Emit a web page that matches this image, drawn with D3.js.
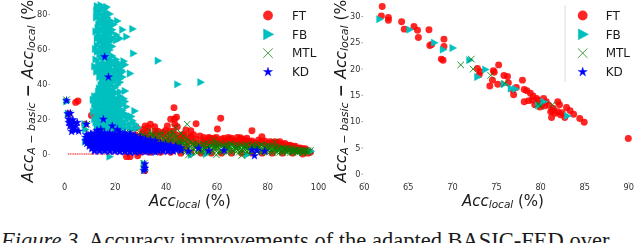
<!DOCTYPE html>
<html>
<head>
<meta charset="utf-8">
<script src="https://cdn.jsdelivr.net/npm/d3@7"></script>
<style>
html, body { margin: 0; padding: 0; background: #fff; overflow: hidden; }
svg { display: block; }
text { font-family: "DejaVu Sans", sans-serif; fill: #1a1a1a; }
</style>
</head>
<body>
<script>
var w = 640;
var h = 243;

var legendNames = ["FT", "FB", "MTL", "KD"];
var leftXTicks = [0, 20, 40, 60, 80, 100];
var leftYTicks = [0, 20, 40, 60, 80];
var rightXTicks = [60, 65, 70, 75, 80, 85, 90];
var rightYTicks = [0, 5, 10, 15, 20, 25, 30];

// left panel
var leftZero = [[1.5, 0], [40, 0]];

var leftFT = [
[4.6,29.5],[5.5,30.3],[1.8,23],[8.2,17],[10.8,22],[28.5,15.2],[32,16],[33,15],[34,17],[35.7,15.6],[33,12.8],[36,13],
[40.7,16],[43.3,26.5],[42,19.8],[43.5,20],[44.3,21],[43.6,17],[44.6,15.6],[41.7,12.8],[48,13.7],[49.9,13.3],[52,17.3],
[61.7,20.4],[60.4,14.3],[74,13.3],[77.9,9.9],[76.6,8],[57.5,9],[59,9],[53.5,10.3],[46.3,10.9],[64.7,9.5],[68.3,9.5],[69.5,9.3],[72,9],[62,8.4],
[24.6,-1.5],[26,-1.5],[29,-1],[31,12],[30,10],[35,10],[38,11],[40,10],[42,9],[44,11],[47,9],[50,10],[52,8.5],[55,8],
[58,7.5],[60,8],[63,7.5],[66,8],[68,7.5],[70,7.5],[73,7],[75,6.5],[78,7],[80,6],[82,6.5],[84,6.5],[86,5.5],[88,5],[90,4.5],[92,3.5],[94,3],[96,2],
[30,1],[34,1],[38,1],[42,1],[46,0.5],[50,0.5],[54,0.5],[58,0.5],[62,0.5],[66,0.5],[70,0.5],[74,0.5],[78,0.5],[82,0.5],[86,0.5],[90,0.5],[94,0],[96,0.5],
[48,4],[52,5],[56,5],[60,5],[64,5],[68,5],[72,5],[76,4.5],[80,4],[84,4],[88,3],[92,2],[57,7],[61,6.5],[65,6.5],[69,6],[74,5.5],[79,5.5],[83,5],[87,4],[91,3],
[31.8,-9.5],[46,8],[49,7],[51,7],[54,6.5],[56,7],[59,6.5],[62,6.5],[64,7],[67,7],[71,6.5],[72,7.5],[76,6],[77,6.5],[81,5.5],[85,5.5],[89,4],[93,2.5],[95,2],[97,1],
[37,8],[33,9],[39,7],[41,7.5],[43,7],[45,6],[28,11],[32,11],[36,11.5],[39,12.5],[47,11],[51,11],[55,6],[65,8.5],[71,8],[83,7],[85,7],[87,6],[79,7.5],
[55,9.5],[57,9.5],[60,9.5],[63,9],[66,9],[70,8.5],[74,7.5],[81,7],[49,10],[45,9],[37,13],[31,14],[40,13.5],[43,13],[93,3.5],[95,3],[91,4.5],[89,5]
];

var leftFB = [
[13.4,84],[15.5,84],[14.2,82],[16.5,81],[13.2,80],[15,79],[17,78],[18.5,76],[21,76],[14,77],[16,75],[13.6,74],[15.5,73],[17.5,73],[19,71],
[27,71.5],[23,71],[12.5,70],[14.5,70],[16.5,69],[24.6,67],[20.6,68],[22,66],[20.6,65],[15,66],[16.5,65],[14,64],[18,64],[15.5,62],[17,61],
[27.3,57.5],[13,58.5],[15,58],[17,58],[19,56],[14.5,55],[16.5,55],[37,53.3],[13.5,52],[15.5,52],[17.5,52],[19.5,52],[21.5,52],[24,51],
[13,49],[15,49],[17,49],[19,48],[21,48],[23,47],[26,46],[14.5,46],[16.5,46],[18.5,45],[20.5,45],[22,43],[44.7,39.8],[53.8,41],[16,43],[18,43],[20,42],[22,41],
[15.5,40],[17.5,40],[16,37],[18,37],[24,36],[15,34],[17,34],[19,34],[14,32],[16,32],[18,32],[20,32],[22,33],[11.4,31],[23.5,31.6],[13,29],[15,29],[17,29],[19,29],[21,29],[23,29],
[12.5,26],[14.5,26],[16.5,26],[18.5,26],[20.5,26],[27.8,24.6],[13,23],[15,23],[17,23],[19,23],[21,23],[13.5,20],[15.5,20],[17.5,20],[19.5,20],[21.5,20],[25,20],[27,19],[14,17],[16,17],[18,17],[20,17],[24,17],[26,17],[28,17],[23,15],
[14,14],[16,14],[18,14],[20,14],[1,30],[1.6,23],[8.4,7],[8.4,14],[8.2,17],[31.6,-5.5],[31.6,-7.5],[31.8,-9.2],[97.2,1.6],[18,-1.5],[50,-0.5],[72,-0.5],[56,0],
[14.8,83],[16,83],[12.8,82],[14,80],[16,79],[14.8,76],[17.2,75.5],[15,71],[17.8,70],[16,68],[14.8,67],[17.2,66.5],[18.8,66],[16.3,63],[14.6,60.5],[16,60],[18,59.5],[15.8,57],[18,54],[20.5,54],
[14.5,50.5],[16.5,50.5],[18.5,50.5],[20.5,50],[22.5,50],[14,47.5],[16,47.5],[18,47],[20,46.5],[22,46],[15.5,44.5],[17.5,44.5],[19.5,44],[15,42],[17,42],[19,41],[16.5,39],[18.5,39],[15.5,38],[17,35.5],[15,36],[19,36],
[13,33],[15,33],[17,33],[19,33],[21,31],[12.5,30.5],[14.5,30.5],[16.5,30.5],[18.5,30.5],[20.5,30.5],[14,28],[16,28],[18,28],[20,28],[22,27.5],[13.5,25],[15.5,25],[17.5,25],[19.5,25],[21.5,25],
[14,22],[16,22],[18,22],[20,22],[22,22],[13,21],[15,21],[17,21],[19,21],[21,21],[14.5,19],[16.5,19],[18.5,19],[20.5,19],[22.5,19],[15,16],[17,16],[19,16],[21,16],[22,18],[23.5,18.5],
[13,84.5],[14.5,85],[16.8,84],[18,80],[12.7,78],[15.8,77.5],[18,73],[19.5,74],[13.3,72],[16.5,71.5],[18.5,69],[13.5,68],[19.5,66],[13,66],[15.5,64.5],[17.5,62.5],[19,61.5],[13,62],[12.3,60],[14,57],[16.8,56.5],[19,53],[12.5,54],[12,50],[23.5,53],[22.5,48],[12.8,47],[21,44],[14,44],[23,44],
[24,30],[22.5,30.5],[24.5,27],[23,25],[24,23],[22.5,23.5],[12,28],[11.5,24],[12,20],[12.5,18],[23,21],[25,22],[26.5,21.5],[12,33],[20.5,35],[22,35.5],[13.5,35.5],[13.8,37.5],[20,38],[14.5,39.5],[21,39.5],
[22,16.5],[24,15],[26,15],[29,15],[27,14],[13,15.5],[20.5,23.5],[18,24],[16,24],[14,24],[16,27],[18,27],[20,27],[15,31],[17,31],[19,31],[14,35],[16,35],[18,35]
];

var leftMTL = [
[1,31],[2,23],[9,17],[10,12],[15,13],[20,13.5],[24,12],[26,12],[48.5,17],[44,15],[46,12],[28,10],[30,12],[32,10],[34,11],[36,9],[38,10.5],[40,8],[42,10],[44,9],[46,7],[48,9],
[30,6],[33,7],[36,6],[39,5],[42,6],[45,5],[48,5],[50,7],[52,6],[54,5],[56,6.5],[58,5],[60,6],[62,4.5],[64,5.5],[66,5],[68,5.5],[70,4.5],[72,5],[74,4.5],[76,5],[78,5],[80,4.5],[82,4.5],[84,4],[86,3.5],[88,3.5],[90,3],[92,2.5],[94,2],[96,1.8],
[46,2],[48,2.5],[50,2],[52,3.5],[54,2],[56,3],[58,2.5],[60,3],[62,2],[64,3],[66,2.5],[68,3],[70,2.5],[72,3],[74,2],[76,3],[78,2.5],[80,2.5],[82,2.5],[84,2],[86,2],[88,2],[90,1.5],[92,1.5],[94,1],[96,1],[97,2],
[47,3.5],[51,4.5],[55,4],[59,4],[63,3.5],[67,4],[71,3.5],[75,3.5],[79,3.5],[83,3],[87,2.5],[91,2],[95,1.5],
[53,1.5],[57,1],[61,1],[65,1.5],[69,1],[73,1.5],[77,1],[81,1.2],[85,1],[89,0.8],[60,-0.5],[70,-0.8],[49,-0.5],[83,7],[59,8],
[31.5,-5.5],[31.5,-8.5],
[29,8],[31,9],[33,8.5],[35,8],[37,7.5],[39,7],[41,7],[43,7.5],[45,6.5],[47,6],[49,5.5],[51,6],[53,5.5],[55,5.5],[57,5],[59,5.5],[61,5],[63,5],[65,4.5],[67,5],[69,4],[71,4.5],[73,4],[75,4.5],[77,4],[79,4.5],[81,4],[83,4],[85,3.5],[87,3],[89,3],[91,2.5],[93,2],[95,2],
[47,2],[49,3],[51,3],[53,2.5],[55,2.5],[57,3],[59,3],[61,3],[63,2.5],[65,3],[67,2],[69,3],[71,2.5],[73,2.5],[75,2.5],[77,2.5],[79,2],[81,3],[83,2],[85,2.5],[87,1.8],[89,2],[91,1.5],[93,1.2],
[48,1.2],[50,1.2],[52,1],[54,1.2],[56,1.5],[58,1.2],[60,1.5],[62,1.2],[64,1],[66,1.2],[68,1.5],[70,1.2],[72,1.2],[74,1],[76,1.2],[78,1.2],[80,1],[82,1],[84,1],[86,1],[88,1],[90,1],[92,0.8],[94,0.6],
[31,11],[33,10],[35,10],[37,9],[39,9],[41,9],[43,8.5],[45,8],[38,12],[41,11.5],[34,13],[43,12],
[46,4.5],[47.5,7],[49.5,4],[50.5,5.5],[52.5,4.5],[53.5,3.5],[55.5,3],[57.5,3.8],[58.5,6],[60.5,4.2],[61.5,6],[63.5,4.2],[64.5,3.8],[65.5,6],[67.5,3.5],[68.5,4.5],[70.5,3.5],[71.5,5.5],[73.5,3.5],[74.5,5.5],[76.5,3.8],[77.5,5.5],[79.5,3.2],[80.5,5],[82.5,3.5],[84.5,3],[86.5,2.8],[88.5,2.5],[90.5,2.2],[92.5,1.8],[94.5,1.5],
[32,6],[34,7],[36,7],[38,6],[40,6],[42,5],[44,5.5],[46,5.5],[48,6.5],[35,11],[37,11],[40,10.5],[42,11.5],[44,11],[47,10]
];

var leftKD = [
[1,30.5],[1.5,23],[2.5,23.2],[1.8,20],[2.6,19],[3.5,19.5],[1.9,18],[2.8,17],[4,18],[5.2,18],[2.3,16],[3.5,15.5],[4.7,16],[3.3,14],[4.5,13.5],[5.8,13],[3,12.8],
[8.8,17],[15.5,19.8],[16,55.5],[17.5,44],[19,16],[21,14],[13,13.5],[14.5,14],[26.2,11],[53,3.3],[57,1.8],[63,2],[74,2.3],[76,2],[79,1.5],[75,-1],[44,2.5],[46,2],[49,1.5],
[31.8,-5.7],[31.8,-8.2],[31.4,-9.4],
[8.8,11],[10.5,11.5],[12,12],[14,12],[16,12],[18,12],[20,11.5],[22,11],[24,10.5],[26,10],[28,9],
[8.5,9.5],[10,9.5],[12,10],[14,10],[16,10],[18,10],[20,9.5],[22,9.5],[24,9],[26,8.5],[28,8],[30,8],[32,7],
[8.5,7.5],[10,8],[12,8],[14,8],[16,8],[18,8],[20,8],[22,7.5],[24,7],[26,7],[28,6.5],[30,6.5],[32,6],[34,6.5],[36,5.5],
[9,6],[11,6],[13,6],[15,6],[17,6],[19,6],[21,6],[23,5.5],[25,5.5],[27,5],[29,5],[31,5],[33,4.5],[35,4.5],[37,4.5],[39,4.5],[41,4],
[10,4.5],[12,4.5],[14,4.5],[16,4.5],[18,4.5],[20,4.5],[22,4],[24,4],[26,3.5],[28,3.5],[30,3.5],[32,3],[34,3],[36,3],[38,3],[40,3],[42,3],[44,3.5],
[11,3],[13,3],[15,3],[17,3],[19,3],[21,2.5],[23,2.5],[25,2],[27,2],[29,2],[31,1.8],[33,1.8],[35,1.8],[37,1.6],[39,1.6],[41,1.5],[43,1.5],
[12,1.6],[14,1.6],[16,1.6],[18,1.5],[20,1.5],[22,1.3],[24,1.3],[26,1],[28,1],
[9.5,10.5],[11,10.8],[13,11],[15,11],[17,11],[19,10.8],[21,10.5],[23,10],[25,9.5],[27,9],[9.3,8.7],[11,9],[13,9],[15,9],[17,9],[19,9],[21,8.7],[23,8.5],[25,8],[27,7.8],[29,7.2],[31,7],
[9.5,7],[11,7],[13,7],[15,7],[17,7],[19,7],[21,7],[23,6.5],[25,6.3],[27,6],[29,6],[31,5.8],[33,5.5],[35,5.5],[10,5.2],[12,5.2],[14,5.2],[16,5.2],[18,5.2],[20,5.2],[22,4.8],[24,4.8],[26,4.3],[28,4.3],[30,4.2],[32,4],[34,3.8],[36,3.8],[38,3.8],[40,3.6],[42,3.6],
[11,3.8],[13,3.8],[15,3.8],[17,3.8],[19,3.8],[21,3.4],[23,3.2],[25,3],[27,2.8],[29,2.8],[31,2.5],[33,2.5],[35,2.5],[37,2.4],[39,2.3],[41,2.2],[43,2.2],[45,2.8],
[12,2.3],[14,2.3],[16,2.3],[18,2.2],[20,2.2],[22,2],[24,1.8],[26,1.6],[28,1.6],[30,1.2],[32,1.2],[34,1.2],[36,1.1],
[24,12],[26,11.5],[22,12.5],[28,10.5],[30,9.5],[32,8.5],[34,8],[36,7.5],[38,6],[40,5.5],[42,5],[44,4.5],[46,3.5]
];

// right panel
var rightFT = [
[62.1,31.8],[62,30],[62.8,29.7],[62.8,29.2],[64.3,28.9],[64.6,27.5],[65.7,28],[66.1,27.3],[66.2,25.9],[67.4,27.4],[67.5,24.4],[67.7,24.6],[69.1,25.6],[69.1,24.2],[68.8,21.8],[69,21.6],
[72.9,20],[73.2,19.4],[73.1,18.8],[75.3,20.7],[74.7,19.6],[74.8,19.3],[74.6,17.8],[74.3,16.7],[75.2,17],[75.9,18.7],[76.3,18.5],[76.4,17.3],[76.9,15.9],[77,15],[78,17.8],[77.3,16.4],
[78.2,16],[78.5,15.8],[78.9,15.3],[79.2,14.8],[78.2,13.7],[78.7,13.9],[79.1,14],[79.6,14.3],[79.4,13.1],[80,12.7],[80.4,14.3],[80.7,13.7],[80.5,12.9],[81.3,10.7],[82,13.7],[82.2,13.1],[81.5,12.4],[81.7,11.5],[82.3,11.2],[82.8,10.7],[83,12.6],[83.4,12],[83.8,11.3],[84.5,10.5],[85,9.8],[90,6.7],
[81,13],[81.4,12],[81.2,11.8],[82,11.8],[82.5,11.6],[79.8,14],[80.2,13.2]
];
var rightFB = [
[61.8,29.4],[65.2,27.4],[68,24.9],[69,23.6],[70.1,23.9],[72,21.6],[72.9,18.4],[73.8,19.8],[75.9,17],[76.7,16.2],[77.2,16.1],[79.8,13],[80.4,13.7],[83.1,11]
];
var rightMTL = [
[71,20.7],[72.2,21.8],[72.4,19.9],[74.4,18.7],[76,17.2],[79.8,13.3],[80,12.8],[81.4,13.1]
];
var rightKD = [];

var colors = { FT: "#ff0000", FB: "#00bfbf", MTL: "#008000", KD: "#0000ff" };

var star = d3.symbol().type(d3.symbolStar);
var tri = "M-3,-3.7L3.9,0L-3,3.7Z";

var svg = d3.select("body").append("svg")
    .attr("width", w)
    .attr("height", h);

var plot = svg.append("g").style("filter", "blur(0.5px)");

function drawSeries(g, name, data, x, y, scale) {
    var sel = g.append("g").selectAll("path").data(data).enter().append("path")
        .attr("transform", function(d) { return "translate(" + x(d[0]) + "," + y(d[1]) + ")"; });
    styleMark(sel, name, scale);
}

function styleMark(sel, name, scale) {
    if (name == "FT") {
        sel.attr("d", d3.symbol().type(d3.symbolCircle).size(38 * scale)()).attr("fill", colors.FT).attr("fill-opacity", 0.85);
    } else if (name == "FB") {
        sel.attr("d", tri).attr("fill", colors.FB).attr("stroke", colors.FB).attr("stroke-width", 0.4);
    } else if (name == "MTL") {
        sel.attr("d", "M-3.3,-3.3L3.3,3.3M-3.3,3.3L3.3,-3.3").attr("fill", "none")
            .attr("stroke", colors.MTL).attr("stroke-width", 1).attr("stroke-opacity", 0.85);
    } else {
        sel.attr("d", star.size(20 * scale)()).attr("fill", colors.KD).attr("stroke", colors.KD).attr("stroke-width", 0.4);
    }
}

function axes(g, x, y, xTicks, yTicks, xAxisY, yAxisX) {
    var xa = g.append("g").attr("transform", "translate(0," + xAxisY + ")")
        .call(d3.axisBottom(x).tickValues(xTicks).tickSize(1.5).tickPadding(1));
    var ya = g.append("g").attr("transform", "translate(" + yAxisX + ",0)")
        .call(d3.axisLeft(y).tickValues(yTicks).tickSize(1.5).tickPadding(1));
    [xa, ya].forEach(function(a) {
        a.select(".domain").remove();
        a.attr("font-family", null).attr("font-size", null);
        a.selectAll("text").style("font-size", "8.2px").style("fill", "#333");
        a.selectAll("line").attr("stroke", "#555").attr("stroke-width", 0.6);
    });
}

function xLabel(g, cx) {
    var t = g.append("text").attr("x", cx).attr("y", 205.5).attr("text-anchor", "middle").style("font-size", "15px");
    t.append("tspan").style("font-style", "italic").text("Acc");
    t.append("tspan").style("font-style", "italic").style("font-size", "10.5px").attr("dy", 2).text("local");
    t.append("tspan").attr("dy", -2).text(" (%)");
}

function yLabel(g, px, cy) {
    var t = g.append("text").attr("text-anchor", "middle")
        .attr("transform", "translate(" + px + "," + cy + ") rotate(-90)")
        .style("font-size", "15.5px");
    t.append("tspan").style("font-style", "italic").text("Acc");
    t.append("tspan").style("font-style", "italic").style("font-size", "11px").attr("dy", 2).text("A − basic");
    t.append("tspan").attr("dy", -2).style("font-weight", "bold").text(" − ");
    t.append("tspan").style("font-style", "italic").text("Acc");
    t.append("tspan").style("font-style", "italic").style("font-size", "11px").attr("dy", 2).text("local");
    t.append("tspan").attr("dy", -2).text(" (%)");
}

function legend(g, markX, textX) {
    var y = d3.scalePoint().domain(legendNames).range([15.5, 72]);
    legendNames.forEach(function(name) {
        var m = g.append("path").attr("transform", "translate(" + markX + "," + y(name) + ")");
        styleMark(m, name, name == "KD" ? 1.3 : 2);
        if (name == "FB") m.attr("transform", "translate(" + markX + "," + y(name) + ") scale(1.45)");
        if (name == "MTL") m.attr("transform", "translate(" + markX + "," + y(name) + ") scale(1.45)").attr("stroke-width", 0.6);
        g.append("text").attr("x", textX).attr("y", y(name) + 4.2).style("font-size", "12px").text(name);
    });
}

// left panel
var xL = d3.scaleLinear().domain([0, 100]).range([64, 318]);
var yL = d3.scaleLinear().domain([0, 80]).range([154, 14]);

drawSeries(plot, "FT", leftFT, xL, yL, 1);
drawSeries(plot, "FB", leftFB, xL, yL, 1);
plot.append("path").attr("d", d3.line().x(function(d) { return xL(d[0]); }).y(function(d) { return yL(d[1]); })(leftZero))
    .attr("stroke", colors.FT).attr("stroke-width", 1).attr("stroke-dasharray", "1.2 0.6");
drawSeries(plot, "MTL", leftMTL, xL, yL, 1);
drawSeries(plot, "KD", leftKD, xL, yL, 1);
axes(plot, xL, yL, leftXTicks, leftYTicks, 182, 50);
xLabel(plot, 190);
yLabel(plot, 33, 88);
legend(plot, 268, 292);

// right panel
var xR = d3.scaleLinear().domain([60, 90]).range([363.7, 628.3]);
var yR = d3.scaleLinear().domain([0, 30]).range([173.7, 16]);

drawSeries(plot, "FT", rightFT, xR, yR, 1);
drawSeries(plot, "FB", rightFB, xR, yR, 1);
drawSeries(plot, "MTL", rightMTL, xR, yR, 1);
drawSeries(plot, "KD", rightKD, xR, yR, 1);
axes(plot, xR, yR, rightXTicks, rightYTicks, 182, 363);
xLabel(plot, 503);
yLabel(plot, 346, 88);
plot.append("line").attr("x1", 565).attr("x2", 565).attr("y1", 5).attr("y2", 82).attr("stroke", "#ddd").attr("stroke-width", 1);
legend(plot, 582.7, 605.7);

// caption under the figure
var cap = svg.append("text").attr("x", 1).attr("y", 248)
    .style("font-family", "'Liberation Serif', serif").style("font-size", "22.5px");
cap.append("tspan").style("font-style", "italic").text("Figure 3.");
cap.append("tspan").text(" Accuracy improvements of the adapted BASIC-FED over");
</script>
</body>
</html>
